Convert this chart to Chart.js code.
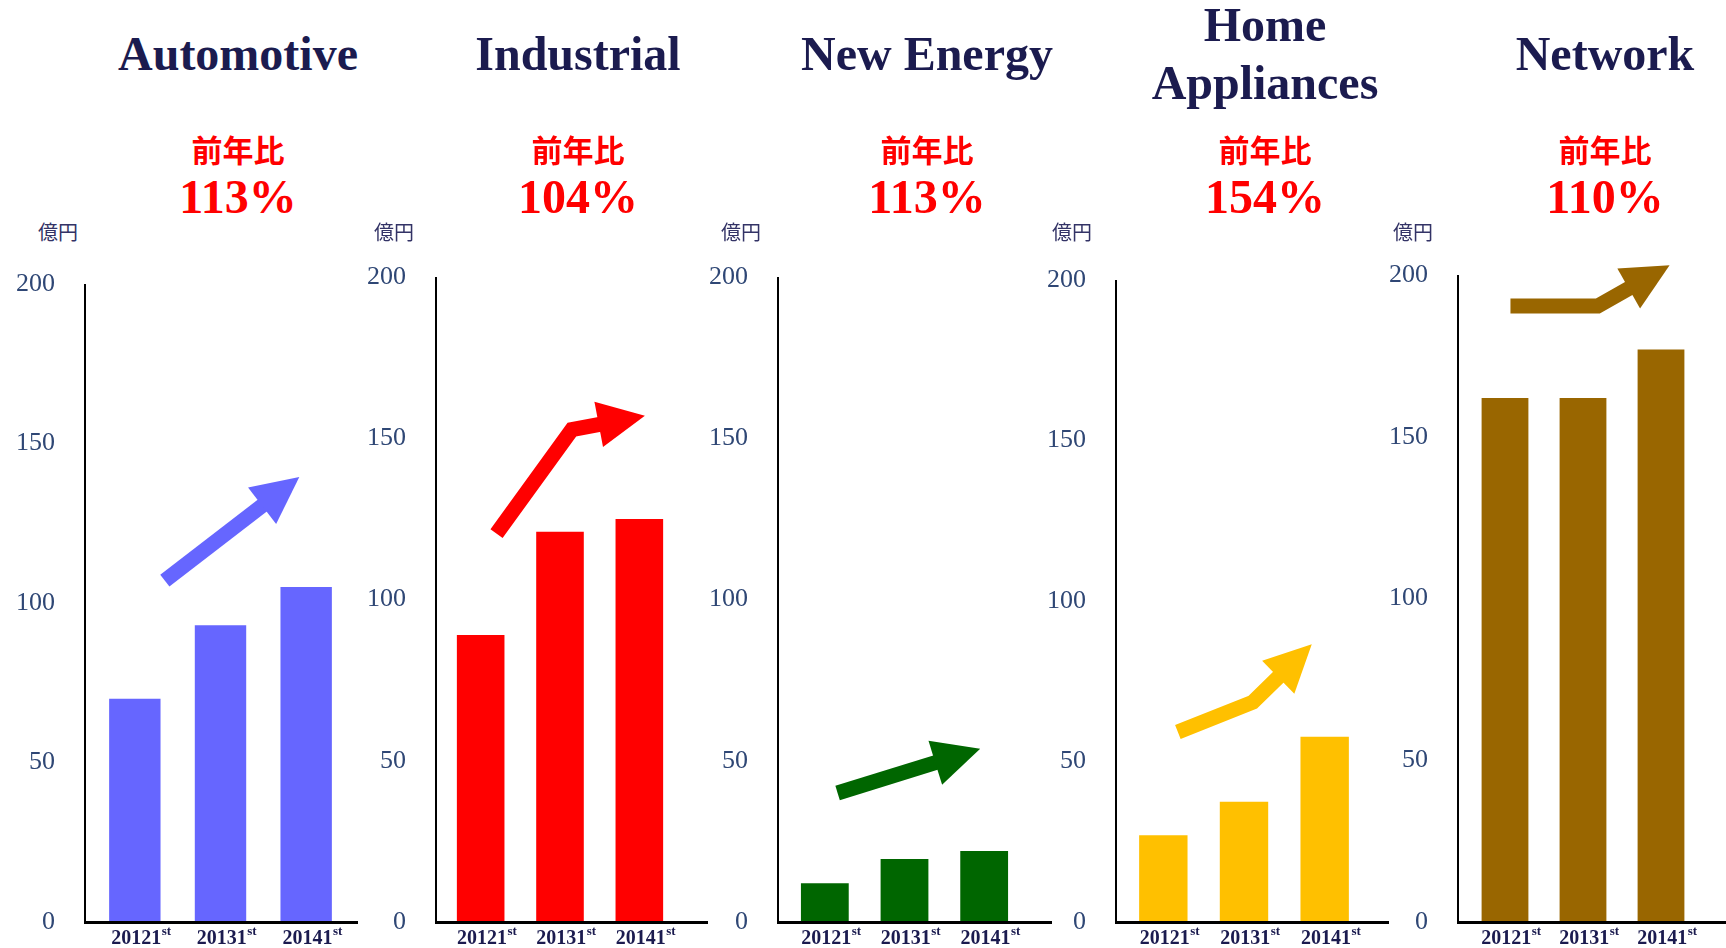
<!DOCTYPE html>
<html>
<head>
<meta charset="utf-8">
<script src="https://cdn.jsdelivr.net/npm/chart.js@4/dist/chart.umd.min.js"></script>
<style>
    body { margin: 0; background: #fff; }
    #page { position: relative; width: 1726px; height: 948px; overflow: hidden; }
    canvas { position: absolute; left: 0; top: 0; pointer-events: none; }
    .title {
        position: absolute; top: 0; height: 108px; width: 300px;
        display: flex; align-items: center; justify-content: center; text-align: center;
        font-family: 'Liberation Serif', 'Times New Roman', serif; font-weight: bold;
        font-size: 48px; line-height: 58px; color: #1b1b4f;
    }
    .yoy-label {
        position: absolute; top: 133px; width: 200px; text-align: center;
        font-family: 'Noto Sans CJK JP', sans-serif; font-weight: bold;
        font-size: 31px; line-height: 31px; color: #ff0000;
    }
    .yoy-value {
        position: absolute; top: 173px; width: 200px; text-align: center;
        font-family: 'Liberation Serif', 'Times New Roman', serif; font-weight: bold;
        font-size: 48px; line-height: 48px; color: #ff0000;
    }
    .unit {
        position: absolute; top: 220px;
        font-family: 'Noto Sans CJK JP', sans-serif; font-size: 20px; line-height: 24px; color: #333366;
    }
</style>
</head>
<body>
<div id="page"></div>
<script>
// data
const segments = ['Automotive', 'Industrial', 'New Energy', 'Home Appliances', 'Network'];
const tickLabels = ['20121st', '20131st', '20141st'];
const automotive = [70, 93, 105];
const industrial = [89, 121, 125];
const newEnergy = [12, 19.5, 22];
const homeAppliances = [27, 37.5, 57.7];
const network = [162, 162, 177];
const yoyRatio = ['113%', '104%', '113%', '154%', '110%'];
const yoyLabel = '前年比';
const unitLabel = '億円';
const yTicks = {min: 0, max: 200, step: 50};

// trend arrows, in (category index, value) units
const trendArrows = [
    [[0.35, 107], [1.92, 139.5]],
    [[0.2, 120.4], [1.15, 152.7], [2.07, 157]],
    [[0.16, 40], [1.95, 53.7]],
    [[0.18, 59.2], [1.11, 68.5], [1.84, 86.5]],
    [[0.07, 190.4], [1.19, 190.4], [2.11, 203]]
];

const seriesValues = [automotive, industrial, newEnergy, homeAppliances, network];
const colors = ['#6666ff', '#ff0000', '#006600', '#ffc000', '#996600'];

// layout of each panel on the page (px)
const W = 1726, H = 948, BOTTOM = 922;
const frames = [
    {axisX: 85, axisEnd: 358, left: 92, right: 349, top: 284, unitX: 38, center: 238},
    {axisX: 436, axisEnd: 708, left: 441, right: 679, top: 277, unitX: 374, center: 578},
    {axisX: 778, axisEnd: 1052, left: 785, right: 1024, top: 277, unitX: 721, center: 927},
    {axisX: 1116, axisEnd: 1389, left: 1123, right: 1365, top: 280, unitX: 1052, center: 1265},
    {axisX: 1458, axisEnd: 1726, left: 1466, right: 1700, top: 275, unitX: 1393, center: 1605}
];

const page = document.getElementById('page');

function addDiv(cls, text, left) {
    const d = document.createElement('div');
    d.className = cls;
    d.textContent = text;
    d.style.left = left + 'px';
    page.appendChild(d);
    return d;
}

// axis lines drawn a bit wider than the chart area, like the original
function axisLinesPlugin(f) {
    return {
        id: 'axisLines',
        afterDatasetsDraw(chart) {
            const ctx = chart.ctx;
            const top = chart.scales.y.getPixelForValue(yTicks.max);
            const bottom = chart.scales.y.getPixelForValue(yTicks.min);
            ctx.save();
            ctx.strokeStyle = '#000';
            ctx.lineWidth = 2;
            ctx.beginPath();
            ctx.moveTo(f.axisX, top);
            ctx.lineTo(f.axisX, bottom);
            ctx.stroke();
            ctx.lineWidth = 3;
            ctx.beginPath();
            ctx.moveTo(f.axisX - 1, bottom + 0.5);
            ctx.lineTo(f.axisEnd, bottom + 0.5);
            ctx.stroke();
            ctx.restore();
        }
    };
}

function arrowPlugin(points, color) {
    const shaft = 15, headLen = 47, headW = 46;
    return {
        id: 'trendArrow',
        afterDatasetsDraw(chart) {
            const xs = chart.scales.x, ys = chart.scales.y;
            const pts = points.map(p => [xs.getPixelForValue(p[0]), ys.getPixelForValue(p[1])]);
            const tip = pts[pts.length - 1];
            const prev = pts[pts.length - 2];
            const len = Math.hypot(tip[0] - prev[0], tip[1] - prev[1]);
            const dx = (tip[0] - prev[0]) / len, dy = (tip[1] - prev[1]) / len;
            const base = [tip[0] - dx * headLen, tip[1] - dy * headLen];
            const ctx = chart.ctx;
            ctx.save();
            ctx.strokeStyle = color;
            ctx.fillStyle = color;
            ctx.lineWidth = shaft;
            ctx.lineJoin = 'miter';
            ctx.lineCap = 'butt';
            ctx.beginPath();
            ctx.moveTo(pts[0][0], pts[0][1]);
            for (let i = 1; i < pts.length - 1; i++) ctx.lineTo(pts[i][0], pts[i][1]);
            ctx.lineTo(base[0] + dx, base[1] + dy);
            ctx.stroke();
            ctx.beginPath();
            ctx.moveTo(tip[0], tip[1]);
            ctx.lineTo(base[0] - dy * headW / 2, base[1] + dx * headW / 2);
            ctx.lineTo(base[0] + dy * headW / 2, base[1] - dx * headW / 2);
            ctx.closePath();
            ctx.fill();
            ctx.restore();
        }
    };
}

// category labels with superscript "st"
const tickLabelPlugin = {
    id: 'tickLabels',
    afterDraw(chart) {
        const ctx = chart.ctx;
        const xs = chart.scales.x;
        const y = chart.scales.y.getPixelForValue(0) + 22;
        ctx.save();
        ctx.fillStyle = '#1b1b4f';
        ctx.textBaseline = 'alphabetic';
        ctx.textAlign = 'left';
        chart.data.labels.forEach((lab, i) => {
            const main = lab.slice(0, -2), sup = lab.slice(-2);
            ctx.font = 'bold 20px "Liberation Serif", serif';
            const wm = ctx.measureText(main).width;
            ctx.font = 'bold 13px "Liberation Serif", serif';
            const ws = ctx.measureText(sup).width;
            const x0 = xs.getPixelForValue(i) - (wm + ws) / 2 + 6;
            ctx.font = 'bold 20px "Liberation Serif", serif';
            ctx.fillText(main, x0, y);
            ctx.font = 'bold 13px "Liberation Serif", serif';
            ctx.fillText(sup, x0 + wm + 0.5, y - 9);
        });
        ctx.restore();
    }
};

segments.forEach((name, k) => {
    const f = frames[k];

    addDiv('title', name, f.center - 150);
    addDiv('yoy-label', yoyLabel, f.center - 100);
    addDiv('yoy-value', yoyRatio[k], f.center - 100);
    addDiv('unit', unitLabel, f.unitX);

    const canvas = document.createElement('canvas');
    canvas.width = W;
    canvas.height = H;
    page.appendChild(canvas);

    new Chart(canvas.getContext('2d'), {
        type: 'bar',
        data: {
            labels: tickLabels,
            datasets: [{
                data: seriesValues[k],
                backgroundColor: colors[k],
                barPercentage: 0.6,
                categoryPercentage: 1
            }]
        },
        options: {
            responsive: false,
            animation: false,
            devicePixelRatio: 1,
            layout: {padding: {left: 0, right: W - f.right, top: f.top, bottom: H - BOTTOM}},
            plugins: {legend: {display: false}, tooltip: {enabled: false}},
            scales: {
                x: {display: false, offset: true},
                y: {
                    min: yTicks.min,
                    max: yTicks.max,
                    afterFit(s) {
                        s.width = f.left;
                        // the big label padding must not push the chart area in
                        s.paddingTop = 0;
                        s.paddingBottom = 0;
                    },
                    grid: {display: false, drawTicks: false},
                    border: {display: false},
                    ticks: {
                        stepSize: yTicks.step,
                        padding: f.left - f.axisX + 30,
                        color: '#2f4775',
                        font: {family: "'Liberation Serif', serif", size: 26}
                    }
                }
            }
        },
        plugins: [axisLinesPlugin(f), arrowPlugin(trendArrows[k], colors[k]), tickLabelPlugin]
    });
});
</script>
</body>
</html>
